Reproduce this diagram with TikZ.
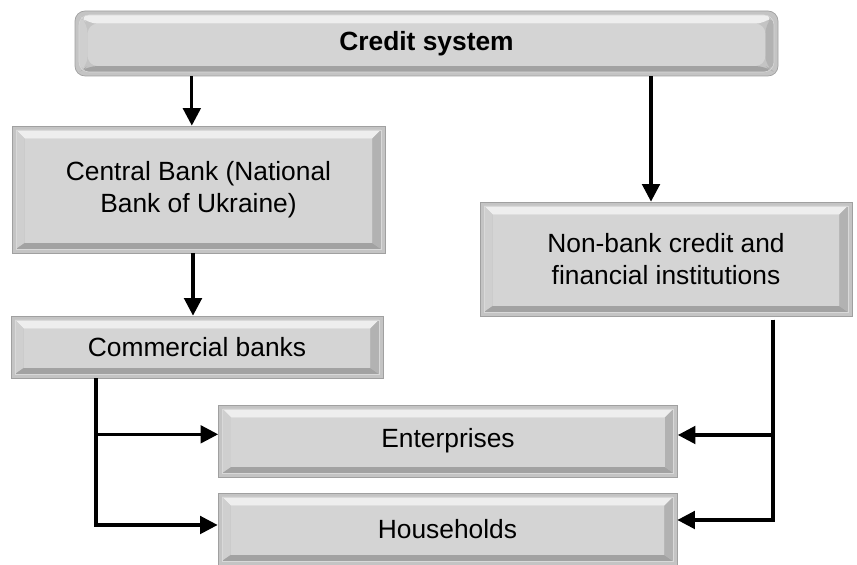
\documentclass[tikz,border=0pt]{standalone}
\usepackage{fontspec}
\setmainfont{Liberation Sans}
\usetikzlibrary{arrows.meta, positioning, calc}

\definecolor{frameline}{HTML}{A0A0A0}
\definecolor{framefill}{HTML}{C4C4C4}
\definecolor{facefill}{HTML}{D4D4D4}
\definecolor{bevtop}{HTML}{EEEEEE}
\definecolor{bevleft}{HTML}{CFCFCF}
\definecolor{bevbot}{HTML}{A2A2A2}
\definecolor{bevright}{HTML}{B2B2B2}

\begin{document}
\begin{tikzpicture}[
  blk/.style={
    rectangle, draw=frameline, fill=framefill, line width=0.6pt,
    align=center, font=\fontsize{22.5}{27.5}\selectfont,
    path picture={
      \coordinate (pa) at ([shift={(0.12cm,-0.12cm)}]path picture bounding box.north west);
      \coordinate (pb) at ([shift={(-0.12cm,0.12cm)}]path picture bounding box.south east);
      \coordinate (qa) at ([shift={(0.38cm,-0.38cm)}]path picture bounding box.north west);
      \coordinate (qb) at ([shift={(-0.38cm,0.3cm)}]path picture bounding box.south east);
      \fill[bevtop] (pa) -- (pa -| pb) -- (qa -| qb) -- (qa) -- cycle;
      \fill[bevleft] (pa) -- (pa |- pb) -- (qa |- qb) -- (qa) -- cycle;
      \fill[bevbot] (pa |- pb) -- (pb) -- (qb) -- (qa |- qb) -- cycle;
      \fill[bevright] (pb) -- (pb |- pa) -- (qb |- qa) -- (qb) -- cycle;
      \fill[facefill] (qa) rectangle (qb);
      \draw[white!70!gray, line width=0.5pt] (pa) rectangle (pb);
    }
  },
  rblk/.style={blk, rounded corners=0.3cm, font=\fontsize{22.5}{27.5}\selectfont\bfseries},
  arr/.style={-{Triangle[length=15pt,width=15pt]}, draw=black, line width=2.8pt}
]
\useasboundingbox (0,0) rectangle (25.71,16.95);

% boxes
\node[rblk, minimum width=21.09cm, minimum height=1.95cm] (csys) at (12.795, 15.645) {Credit system};
\node[blk, minimum width=11.19cm, minimum height=3.81cm] (nbu) at (5.955, 11.265)
  {Central Bank (National\\Bank of Ukraine)};
\node[blk, minimum width=11.16cm, minimum height=3.42cm] (nbcfi) at (19.98, 9.18)
  {Non-bank credit and\\financial institutions};
\node[blk, minimum width=11.16cm, minimum height=1.86cm] (comm) at (5.91, 6.54) {Commercial banks};
\node[blk, minimum width=13.77cm, minimum height=2.16cm] (ent) at (13.44, 3.72) {Enterprises};
\node[blk, minimum width=13.77cm, minimum height=2.16cm] (hh) at (13.425, 1.08) {Households};

% arrows from the top box
\draw[arr] ([xshift=-0.2cm]nbu.north |- csys.south) -- ([xshift=-0.2cm]nbu.north);
\draw[arr] ([xshift=-4.5mm]nbcfi.north |- csys.south) -- ([xshift=-4.5mm]nbcfi.north);
\draw[arr] ([xshift=-0.165cm]nbu.south) -- ([xshift=-0.165cm]nbu.south |- comm.north);

% commercial banks to clients
\coordinate (lb) at ([xshift=-3.03cm]comm.south);
\draw[arr] (lb) |- ([yshift=1.2mm]hh.west);
\draw[arr] (lb) |- ([yshift=2mm]ent.west);

% non-bank institutions to clients
\coordinate (rb) at ([xshift=3.21cm, yshift=-0.1cm]nbcfi.south);
\draw[arr] (rb) |- ([yshift=2.7mm]hh.east);
\draw[arr] (rb) |- ([yshift=1.8mm]ent.east);
\end{tikzpicture}
\end{document}
